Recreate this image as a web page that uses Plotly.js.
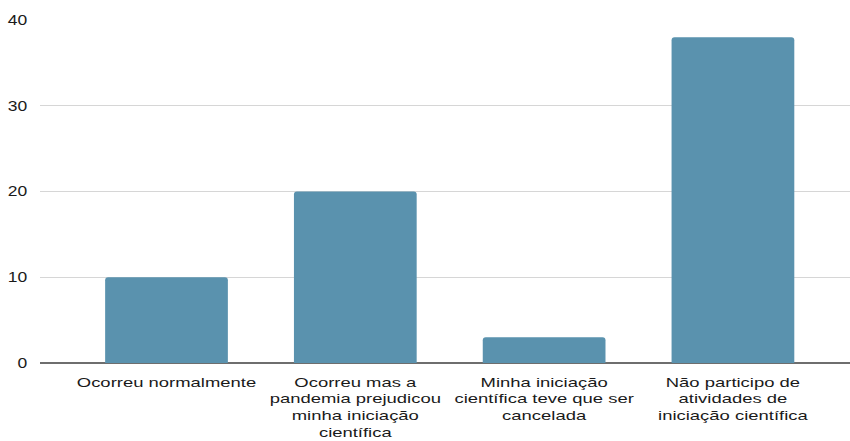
<!DOCTYPE html>
<html>
<head>
<meta charset="utf-8">
<script src="https://cdn.plot.ly/plotly-3.0.1.min.js"></script>
<style>html,body{margin:0;padding:0;background:#fff;}#chart{width:850px;height:441px;}</style>
</head>
<body>
<div id="chart"></div>
<script>
const categories = [
  "Ocorreu normalmente",
  "Ocorreu mas a<br>pandemia prejudicou<br>minha iniciação<br>científica",
  "Minha iniciação<br>científica teve que ser<br>cancelada",
  "Não participo de<br>atividades de<br>iniciação científica"
];
const values = [10, 20, 3, 38];
const yTicks = [0, 10, 20, 30, 40];

const trace = {
  type: 'bar',
  x: [0, 1, 2, 3],
  y: values,
  marker: {color: '#5a92ae', cornerradius: 3},
  hoverinfo: 'none'
};
const layout = {
  width: 850, height: 441,
  margin: {l: 40, r: 0, t: 20, b: 78},
  paper_bgcolor: '#fff', plot_bgcolor: '#fff',
  bargap: 0.35,
  showlegend: false,
  font: {family: 'Liberation Sans, Arial, sans-serif', size: 13, color: '#1a1a1a'},
  xaxis: {
    range: [-0.67, 3.62],
    tickvals: [0, 1, 2, 3],
    ticktext: categories,
    showgrid: false, zeroline: false, showline: false,
    ticks: 'outside', ticklen: 7, tickcolor: 'rgba(0,0,0,0)',
    tickfont: {size: 13, color: '#1a1a1a'},
    fixedrange: true
  },
  yaxis: {
    range: [0, 40],
    tickvals: yTicks,
    ticktext: yTicks.map(String),
    showgrid: true, gridcolor: '#d6d6d6', gridwidth: 1,
    zeroline: true, zerolinecolor: '#6e6e6e', zerolinewidth: 1.5,
    showline: false,
    ticks: 'outside', ticklen: 9, tickcolor: 'rgba(0,0,0,0)',
    tickfont: {size: 14, color: '#1a1a1a'},
    fixedrange: true
  }
};
Plotly.newPlot('chart', [trace], layout, {displayModeBar: false, staticPlot: true}).then(function (gd) {
  // the reference's lettering is horizontally widened; stretch tick labels about their anchor
  function stretch(sel, k) {
    gd.querySelectorAll(sel).forEach(function (t) {
      const x = parseFloat(t.getAttribute('x')) || 0;
      const tr = t.getAttribute('transform') || '';
      t.setAttribute('transform', tr + ' translate(' + x + ',0) scale(' + k + ',1) translate(' + (-x) + ',0)');
    });
  }
  stretch('.xtick text', 1.42);
  stretch('.ytick text', 1.25);
});
</script>
</body>
</html>
